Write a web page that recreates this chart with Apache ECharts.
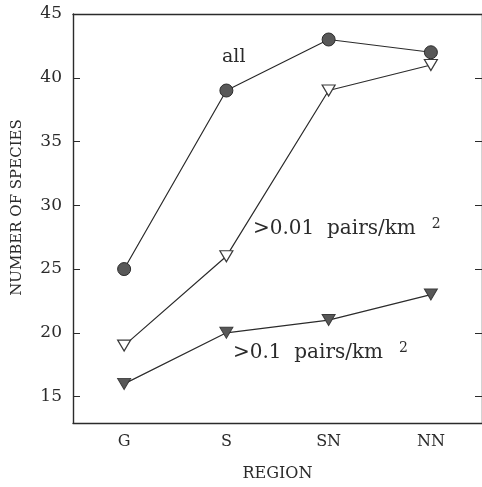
<!DOCTYPE html>
<html>
<head>
<meta charset="utf-8">
<script src="https://cdn.jsdelivr.net/npm/echarts@6/dist/echarts.min.js"></script>
<style>
  html, body { margin:0; padding:0; background:#fff; }
  #chart { width:482px; height:487px; }
</style>
</head>
<body>
<div id="chart"></div>
<script>
// === Datos ===
const regions = ['G', 'S', 'SN', 'NN'];
const allSpecies = [25, 39, 43, 42];       // círculos llenos
const over001 = [19, 26, 39, 41];          // >0.01 pairs/km2, triángulos abiertos
const over01 = [16, 20, 21, 23];           // >0.1 pairs/km2, triángulos llenos
const yTicks = [15, 20, 25, 30, 35, 40, 45];

// === Estilo ===
const ink = '#2b2b2b', font = 'DejaVu Serif';
const triDown = 'path://M0,0L10,0L5,9Z';
const Y_MIN = 12.93, Y_MAX = 45;

const lineBase = { type:'line', smooth:false, lineStyle:{ color:ink, width:1.2 }, z:3 };
const supRich = (size) => ({
  t:{ fontFamily:font, fontSize:size, color:ink },
  s:{ fontFamily:font, fontSize:14, color:ink, verticalAlign:'top', padding:[0,0,9,16] }
});

const chart = echarts.init(document.getElementById('chart'), null, { renderer:'canvas' });
chart.setOption({
  animation: false,
  backgroundColor: '#fff',
  grid: { left:73, top:14, width:410, height:410 },
  xAxis: [
    { type:'category', data:regions, boundaryGap:true,
      name:'REGION', nameLocation:'middle', nameGap:43,
      nameTextStyle:{ fontFamily:font, fontSize:16, color:ink },
      axisLine:{ lineStyle:{ color:ink, width:1.4 } },
      axisTick:{ inside:true, alignWithLabel:true, length:7, lineStyle:{ color:ink } },
      axisLabel:{ fontFamily:font, fontSize:16, color:ink, margin:11 } },
    { type:'category', data:regions, boundaryGap:true, position:'top',
      axisLine:{ lineStyle:{ color:ink, width:1.4 } },
      axisTick:{ inside:true, alignWithLabel:true, length:7, lineStyle:{ color:ink } },
      axisLabel:{ show:false } }
  ],
  yAxis: [
    { type:'value', min:Y_MIN, max:Y_MAX,
      name:'NUMBER OF SPECIES', nameLocation:'middle', nameGap:48,
      nameTextStyle:{ fontFamily:font, fontSize:15, color:ink, padding:[0,0,0,22] },
      axisLine:{ show:true, lineStyle:{ color:ink, width:1.4 } },
      axisTick:{ show:true, inside:true, length:7, customValues:yTicks, lineStyle:{ color:ink } },
      axisLabel:{ fontFamily:font, fontSize:17, color:ink, margin:11, customValues:yTicks },
      splitLine:{ show:false } },
    { type:'value', min:Y_MIN, max:Y_MAX, position:'right',
      axisLine:{ show:true, lineStyle:{ color:ink, width:1.4 } },
      axisTick:{ show:true, inside:true, length:7, customValues:yTicks, lineStyle:{ color:ink } },
      axisLabel:{ show:false }, splitLine:{ show:false } }
  ],
  series: [
    { ...lineBase, name:'all', data:allSpecies, symbol:'circle', symbolSize:13,
      itemStyle:{ color:'#585858', borderColor:ink, borderWidth:1 } },
    { ...lineBase, name:'>0.01', data:over001, symbol:triDown, symbolSize:[13,11],
      itemStyle:{ color:'#fff', borderColor:'#3a3a3a', borderWidth:1.2 } },
    { ...lineBase, name:'>0.1', data:over01, symbol:triDown, symbolSize:[13,11],
      itemStyle:{ color:'#585858', borderColor:'#3a3a3a', borderWidth:1 } }
  ],
  // etiquetas de las curvas
  graphic: [
    { type:'text', left:222, top:48, style:{ text:'all', font:`19px "${font}"`, fill:ink } },
    { type:'text', left:253, top:217, style:{
        text:'{t|>0.01  pairs/km}{s|2}', fill:ink, rich:supRich(20) } },
    { type:'text', left:233, top:341, style:{
        text:'{t|>0.1  pairs/km}{s|2}', fill:ink, rich:supRich(20) } }
  ]
});
</script>
</body>
</html>
